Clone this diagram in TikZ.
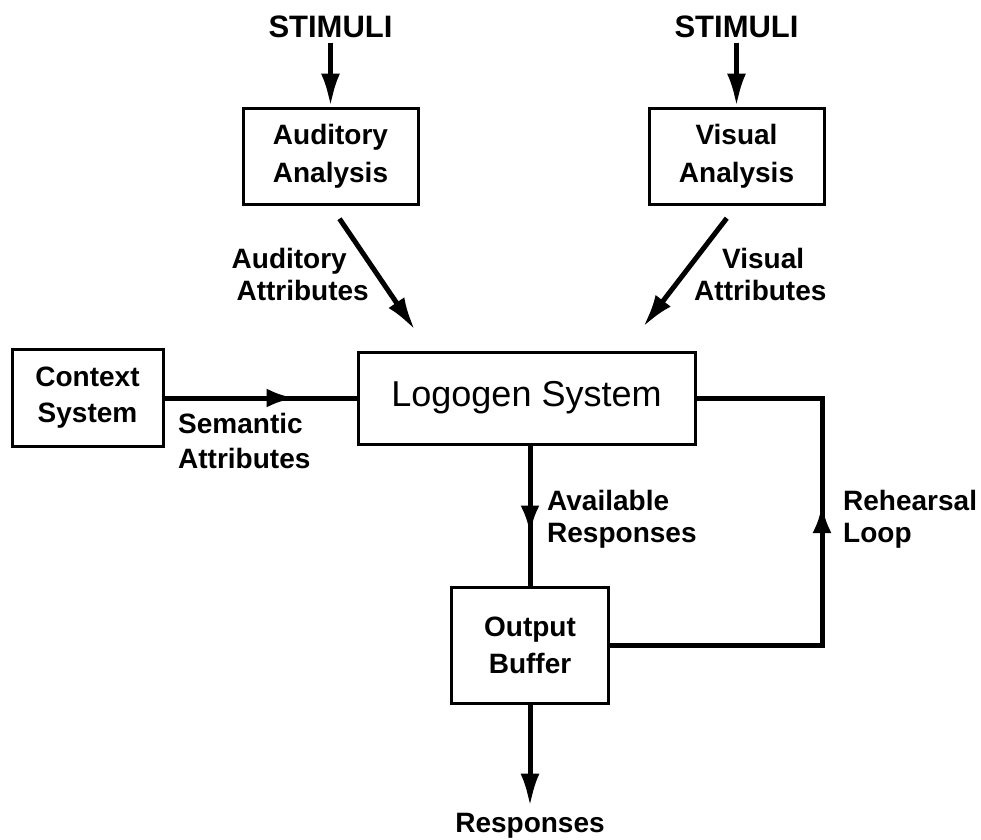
\documentclass[tikz,border=0pt]{standalone}
\usepackage{fontspec}
\setmainfont{Liberation Sans}
\usetikzlibrary{arrows.meta,decorations.markings}
\tikzset{
  box/.style={draw, line width=3pt, align=center, inner sep=0pt,
    font=\bfseries\fontsize{28}{38}\selectfont},
  lbl/.style={font=\bfseries\fontsize{28}{33}\selectfont, inner sep=0pt},
  conn/.style={line width=5pt},
  arr/.style={conn, -{Latex[length=33pt,width=19pt]}},
  midarr/.style={conn, postaction={decorate},
    decoration={markings, mark=at position #1 with {\arrow{Latex[length=28pt,width=19pt]}}}},
}
\begin{document}
\begin{tikzpicture}[x=1pt,y=-1pt]
\useasboundingbox (0,0) rectangle (981,839);
% boxes
\node[box, minimum width=175pt, minimum height=96pt] (aud) at (330.5,156) {Auditory\\Analysis};
\node[box, minimum width=175pt, minimum height=96pt] (vis) at (736.5,156) {Visual\\Analysis};
\node[box, minimum width=151pt, minimum height=97pt, font=\bfseries\fontsize{28}{36}\selectfont] (ctx) at (87.5,398) {Context\\System};
\node[box, minimum width=337pt, minimum height=92pt, font=\fontsize{36}{40}\selectfont] (log) at (526.5,398) {Logogen System};
\node[box, minimum width=157pt, minimum height=116pt, font=\bfseries\fontsize{28}{37}\selectfont] (out) at (530,645) {Output\\Buffer};
% stimuli and responses
\node[lbl, font=\bfseries\fontsize{31}{36}\selectfont, anchor=base] (stimA) at (330.5,37) {STIMULI};
\node[lbl, font=\bfseries\fontsize{31}{36}\selectfont, anchor=base] (stimV) at (736.5,37) {STIMULI};
\node[lbl, anchor=base] (resp) at (530,832) {Responses};
% labels
\node[lbl, anchor=base east] (audl1) at (347,268) {Auditory};
\node[lbl, anchor=base east] (audl2) at (369,300) {Attributes};
\node[lbl, anchor=base west] (visl1) at (722,268) {Visual};
\node[lbl, anchor=base west] (visl2) at (694,300) {Attributes};
\node[lbl, anchor=base west] (seml1) at (178,433) {Semantic};
\node[lbl, anchor=base west] (seml2) at (178,468) {Attributes};
\node[lbl, anchor=base west] (avl1) at (547,510) {Available};
\node[lbl, anchor=base west] (avl2) at (547,542) {Responses};
\node[lbl, anchor=base west] (rel1) at (843,510) {Rehearsal};
\node[lbl, anchor=base west] (rel2) at (843,542) {Loop};
% coordinates
\coordinate (audTip) at (415,330);
\coordinate (visTip) at (643,327);
\coordinate (loopx) at (822,0);
% connectors
\draw[arr, shorten <=5pt] (stimA.south) -- (aud.north);
\draw[arr, shorten <=5pt] (stimV.south) -- (vis.north);
\draw[arr, shorten <=16pt] (aud.south) -- (audTip);
\draw[arr, shorten <=16pt] (vis.south) -- (visTip);
\draw[midarr=130pt] (ctx.east) -- (ctx.east -| log.west);
\draw[midarr=88pt] (log.south -| out.north) -- (out.north);
\draw[midarr=352pt] (out.east) -| (loopx |- log.east) -- (log.east);
\draw[arr, shorten >=6pt] (out.south) -- (resp.north -| out.south);
\end{tikzpicture}
\end{document}
